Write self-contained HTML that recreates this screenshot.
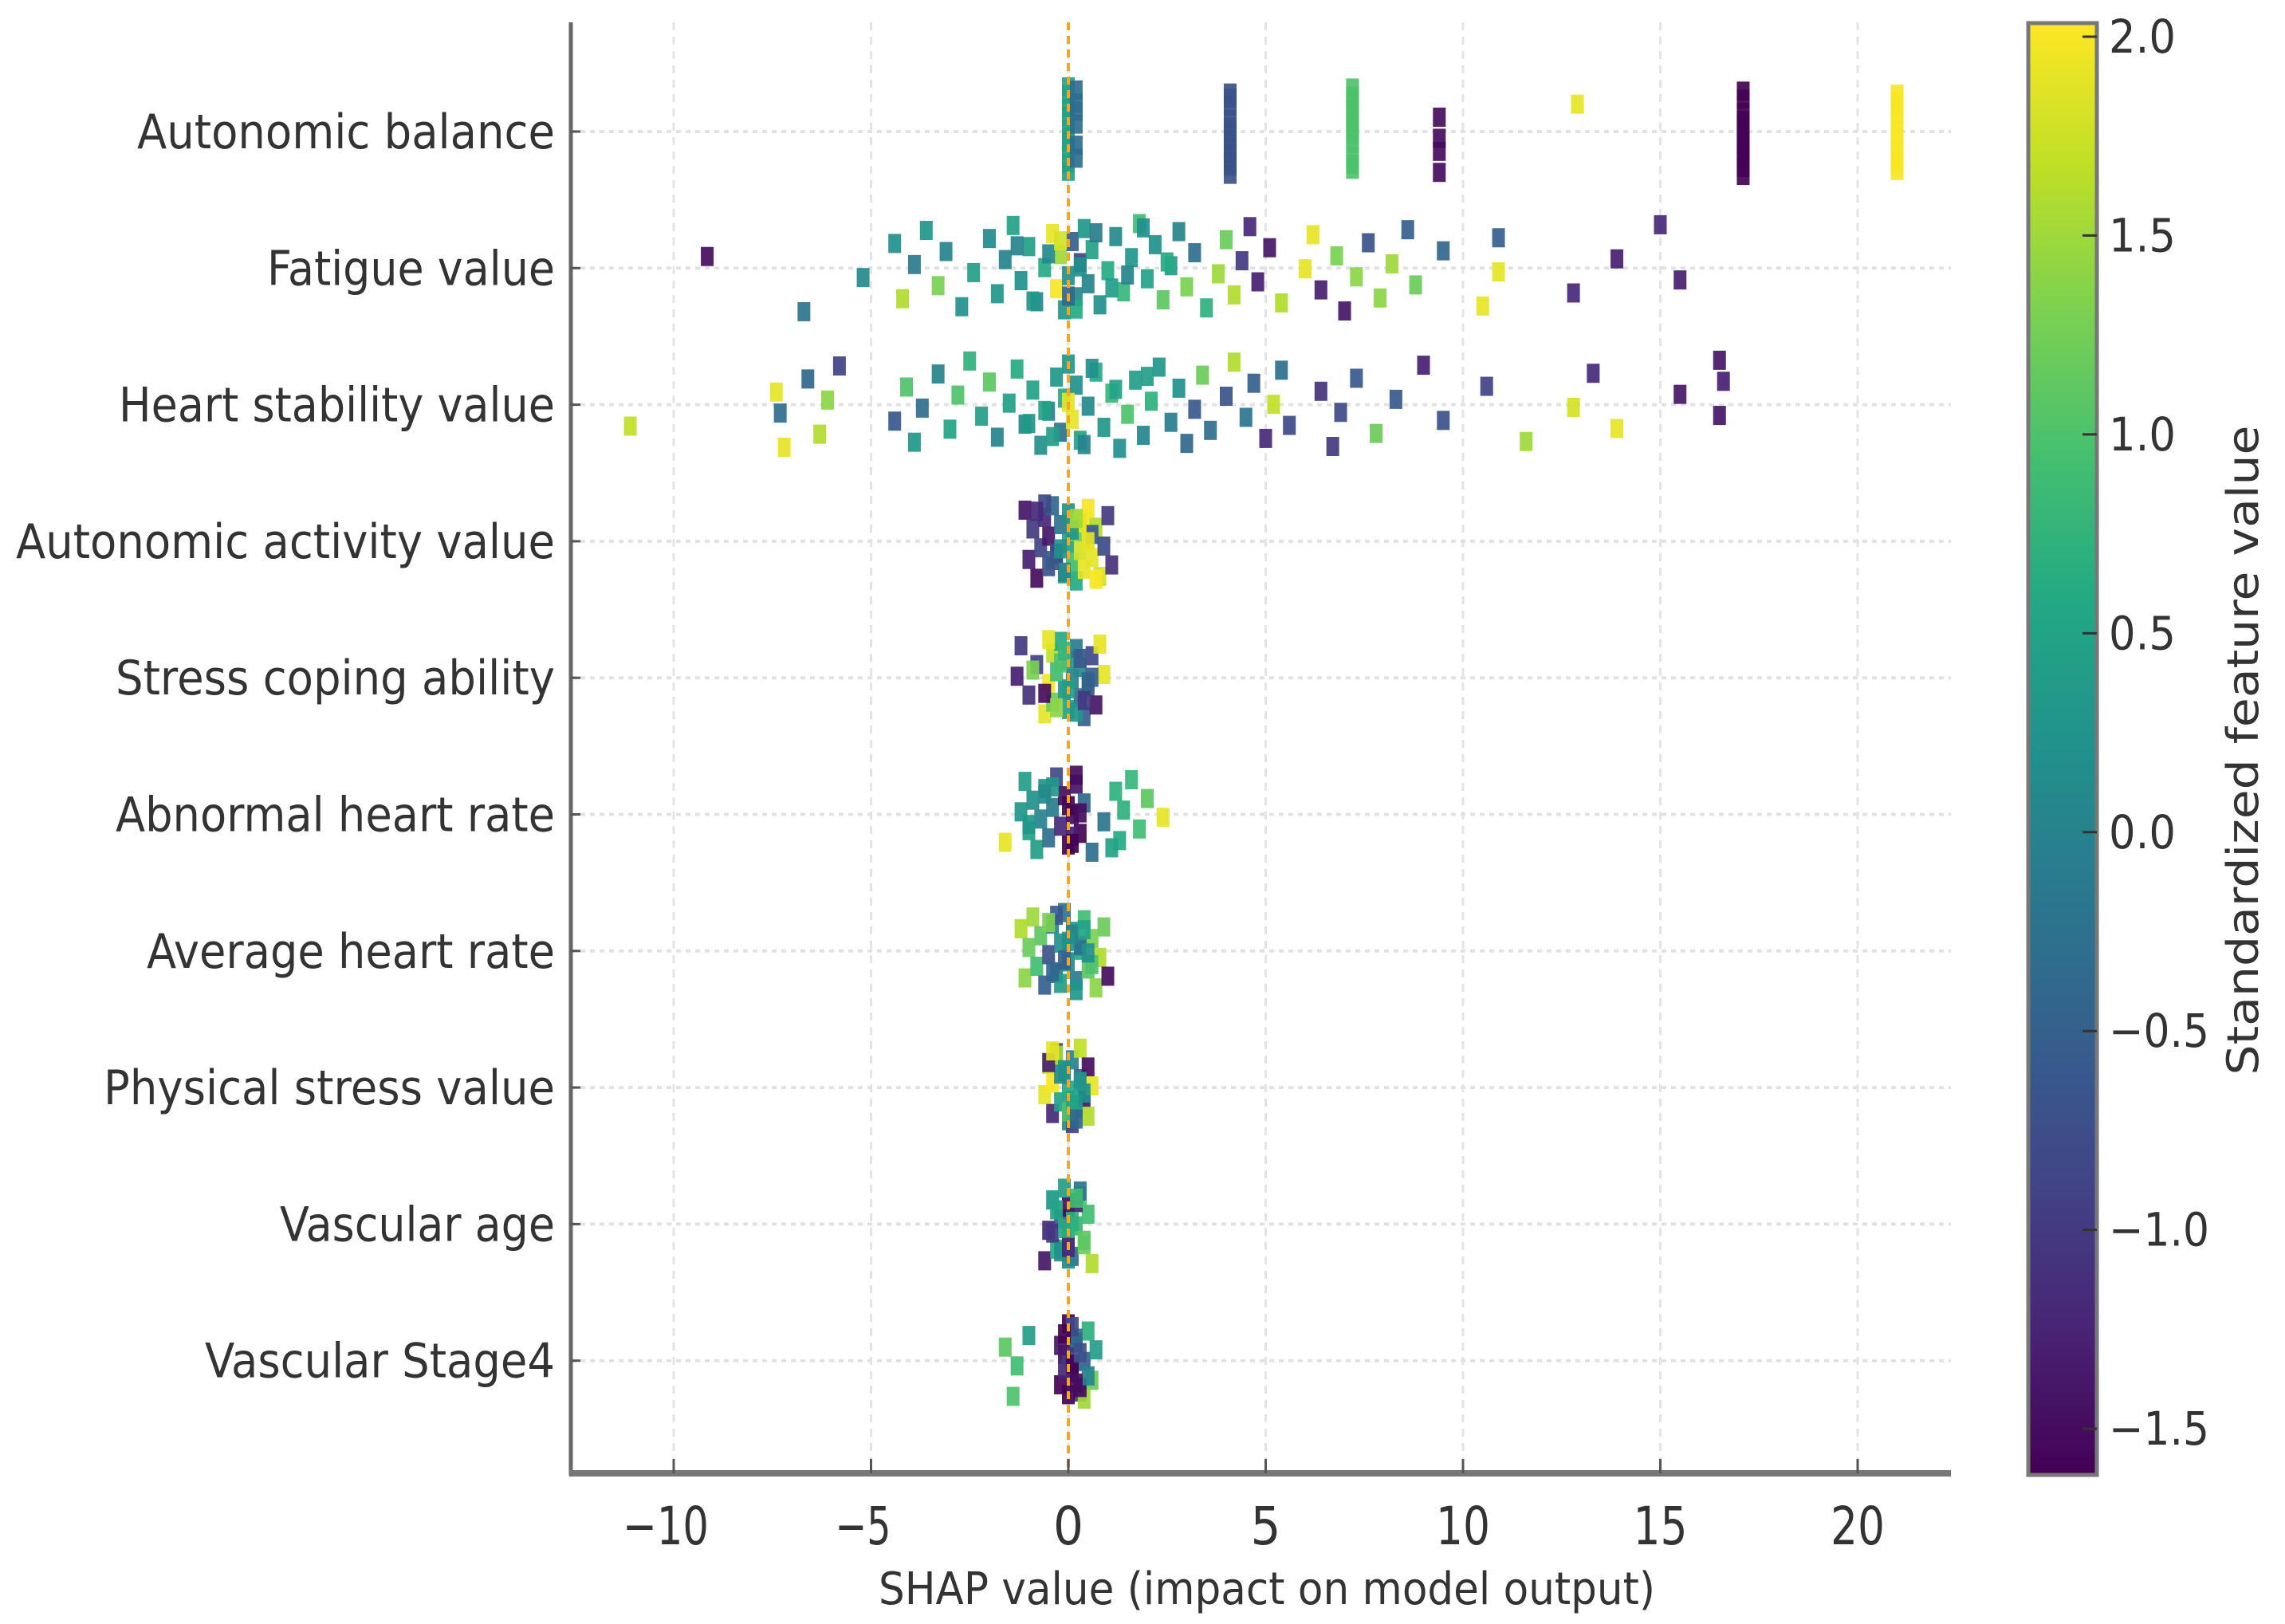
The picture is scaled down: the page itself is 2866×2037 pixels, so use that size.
<!DOCTYPE html>
<html><head><meta charset="utf-8"><style>
html,body{margin:0;padding:0;background:#fff;}
svg{display:block;}
text{font-family:"DejaVu Sans","Liberation Sans",sans-serif;fill:#333;}
</style></head><body>
<svg id="chart" width="2866" height="2037" viewBox="0 0 2866 2037" xmlns="http://www.w3.org/2000/svg">
<defs>
<linearGradient id="viridis" x1="0" y1="1" x2="0" y2="0">
<stop offset="0" stop-color="#440154"/><stop offset="0.1" stop-color="#482475"/><stop offset="0.2" stop-color="#414487"/><stop offset="0.3" stop-color="#355f8d"/><stop offset="0.4" stop-color="#2a788e"/><stop offset="0.5" stop-color="#21918c"/><stop offset="0.6" stop-color="#22a884"/><stop offset="0.7" stop-color="#44bf70"/><stop offset="0.8" stop-color="#7ad151"/><stop offset="0.9" stop-color="#bddf26"/><stop offset="1" stop-color="#fde725"/>
</linearGradient>
</defs>
<g id="grid"></g>
<g id="points"></g>
<g id="axes"></g>
<g id="cbar"></g>
</svg>
<script>
const features = ["Autonomic balance","Fatigue value","Heart stability value","Autonomic activity value","Stress coping ability","Abnormal heart rate","Average heart rate","Physical stress value","Vascular age","Vascular Stage4"];
const xTicks = [-10,-5,0,5,10,15,20];
const xTickLabels = ["\u221210","\u22125","0","5","10","15","20"];
const cbarTicks = [2.0,1.5,1.0,0.5,0.0,-0.5,-1.0,-1.5];
const cbarTickLabels = ["2.0","1.5","1.0","0.5","0.0","\u22120.5","\u22121.0","\u22121.5"];

const autonomicBalance = [[0,0.5],[0,0.5],[0,0.5],[0,0.5],[0,0.5],[0,0.5],[0,0.5],[0,0.5],[0,0.5],[0,0.5],[0.2,-0.3],[0.2,-0.3],[0.2,-0.3],[0.2,-0.3],[0.2,-0.3],[0.2,-0.3],
[4.1,-0.7],[4.1,-0.7],[4.1,-0.7],[4.1,-0.7],[4.1,-0.7],[4.1,-0.7],[4.1,-0.7],[4.1,-0.7],[4.1,-0.7],[4.1,-0.7],[4.1,-0.7],[4.1,-0.7],
[7.2,1.0],[7.2,1.0],[7.2,1.0],[7.2,1.0],[7.2,1.0],[7.2,1.0],[7.2,1.0],[7.2,1.0],[7.2,1.0],[7.2,1.0],[7.2,1.0],[7.2,1.0],
[9.4,-1.5],[9.4,-1.5],[9.4,-1.5],[9.4,-1.5],[12.9,1.9],
[17.1,-1.6],[17.1,-1.6],[17.1,-1.6],[17.1,-1.6],[17.1,-1.6],[17.1,-1.6],[17.1,-1.6],[17.1,-1.6],[17.1,-1.6],[17.1,-1.6],[17.1,-1.6],[17.1,-1.6],
[21.0,2.0],[21.0,2.0],[21.0,2.0],[21.0,2.0],[21.0,2.0],[21.0,2.0],[21.0,2.0],[21.0,2.0],[21.0,2.0],[21.0,2.0]];
const fatigueValue = [[-9.15,-1.5],[-6.7,-0.2],[-5.2,0.1],[-4.4,0.2],[-4.2,1.6],[-3.9,-0.1],[-3.6,0.3],[-3.3,1.3],[-3.1,0.0],[-2.7,0.2],[-2.4,0.4],[-2.0,0.1],[-1.8,0.3],[-1.6,0.0],[-1.4,0.5],[-1.2,0.2],[-1.0,0.4],[-0.8,0.1],[-0.6,0.6],[-0.4,1.9],[-0.3,2.0],[-0.2,1.5],[-0.1,0.3],[0,0.2],[0.1,-0.5],[0.2,0.1],[0.3,-0.9],[0.4,0.3],[0.5,0.0],[0.6,0.5],[0.8,0.2],[1.0,0.6],[1.2,0.1],[1.4,0.8],[1.6,0.3],[1.8,0.9],[2.0,0.5],[2.2,0.2],[2.4,1.1],[2.6,0.4],[2.8,0.0],[3.0,1.3],[3.2,-0.3],[3.5,0.7],[3.8,1.5],[4.0,1.2],[4.2,1.6],[4.4,-1.0],[4.6,-1.2],[4.8,-1.3],[5.1,-1.4],[5.4,1.6],[6.0,1.9],[6.2,1.9],[6.4,-1.3],[6.8,1.3],[7.0,-1.4],[7.3,1.4],[7.6,-0.7],[7.9,1.4],[8.2,1.5],[8.6,-0.5],[8.8,1.2],[9.5,-0.4],[10.5,1.9],[10.9,1.9],[10.9,-0.5],[12.8,-1.2],[13.9,-1.3],[15.0,-1.2],[15.5,-1.3],[-1.3,0.0],[-0.9,0.3],[0.3,0.2],[0.7,-0.1],[1.1,0.4],[-0.5,0.1],[0.2,0.6],[1.5,0.0],[-0.2,1.8],[0.0,-0.4],[2.5,0.6],[1.9,0.2]];
const heartStability = [[-11.1,1.7],[-7.4,1.9],[-7.2,1.9],[-7.3,-0.3],[-6.6,-0.4],[-6.3,1.6],[-6.1,1.4],[-5.8,-0.9],[-4.4,-0.6],[-4.1,1.0],[-3.9,0.3],[-3.7,-0.3],[-3.3,0.0],[-3.0,0.5],[-2.8,1.0],[-2.5,0.7],[-2.2,0.4],[-2.0,1.1],[-1.8,0.0],[-1.5,0.4],[-1.3,0.6],[-1.1,0.1],[-0.9,0.5],[-0.7,0.2],[-0.5,0.0],[-0.3,0.3],[-0.2,-0.2],[-0.1,0.6],[0,0.3],[0.1,1.9],[0.2,0.2],[0.3,0.5],[0.5,0.1],[0.7,0.6],[0.9,0.3],[1.1,0.8],[1.3,0.2],[1.5,1.0],[1.7,0.4],[1.9,0.0],[2.1,0.7],[2.3,0.3],[2.6,-0.1],[2.8,0.2],[3.0,-0.4],[3.2,-0.6],[3.4,1.2],[3.6,-0.3],[4.0,-0.7],[4.2,1.6],[4.5,-0.2],[4.7,-0.5],[5.0,-1.2],[5.2,1.7],[5.4,-0.3],[5.6,-0.8],[6.4,-1.1],[6.7,-1.0],[6.9,-0.8],[7.3,-0.6],[7.8,1.2],[8.3,-0.6],[9.0,-1.3],[9.5,-0.7],[10.6,-0.9],[11.6,1.5],[12.8,1.8],[13.3,-1.2],[13.9,1.9],[15.5,-1.4],[16.5,-1.4],[16.5,-1.4],[16.6,-1.3],[-0.4,0.4],[0.0,1.9],[0.6,0.2],[-1.0,0.3],[1.2,0.5],[0.4,0.0],[-0.6,0.5],[2.0,0.4]];
const autonomicActivity = [[-1.1,-1.4],[-1.0,-1.3],[-0.9,-1.0],[-0.8,-1.5],[-0.7,-0.9],[-0.6,-1.2],[-0.5,-0.7],[-0.5,-1.4],[-0.4,-0.4],[-0.3,0.0],[-0.2,-0.2],[-0.1,0.4],[0,0.5],[0,0.2],[0.1,0.9],[0.2,1.2],[0.2,0.6],[0.3,1.8],[0.4,2.0],[0.4,1.9],[0.5,1.7],[0.5,2.0],[0.6,1.9],[0.7,1.6],[0.8,1.8],[0.9,-0.8],[1.0,-1.0],[1.1,-1.1],[0.6,-0.6],[-0.6,-0.8],[-0.3,-0.9],[0.3,1.9],[-0.1,0.1],[0.5,1.9],[-0.8,-1.2],[-0.4,-0.6],[0.1,0.3],[0.7,2.0],[-0.2,0.2],[0.2,1.5]];
const stressCoping = [[-1.3,-1.3],[-1.2,-1.0],[-1.0,-1.1],[-0.8,-0.9],[-0.6,1.9],[-0.5,2.0],[-0.4,1.7],[-0.4,1.2],[-0.3,0.9],[-0.2,0.6],[-0.1,0.3],[0,0.2],[0,0.5],[0.1,0.0],[0.2,-0.1],[0.3,-0.3],[0.3,0.1],[0.4,-0.5],[0.5,-0.7],[0.6,-0.8],[0.7,-1.4],[0.9,1.9],[0.8,1.9],[-0.6,-1.5],[-0.2,1.0],[0.2,0.3],[0.5,-0.4],[-0.1,0.8],[0.4,-1.0],[-0.9,1.3],[-0.5,1.9],[0.0,0.4],[0.3,-0.6],[-0.3,1.4],[0.6,-0.5]];
const abnormalHeartRate = [[-1.6,1.9],[-1.2,0.3],[-1.1,0.4],[-1.0,0.5],[-0.9,0.2],[-0.8,0.4],[-0.7,0.0],[-0.6,0.3],[-0.5,-0.3],[-0.4,-0.1],[-0.3,-0.8],[-0.2,-1.2],[-0.1,-1.5],[0,-1.6],[0.1,-1.5],[0.2,-1.4],[0.3,-1.6],[0.4,-0.4],[0.6,-0.3],[0.9,-0.2],[1.2,0.7],[1.3,0.6],[1.4,0.7],[1.6,0.8],[1.8,0.9],[2.0,1.1],[1.1,0.5],[2.4,1.9],[-0.4,0.3],[0.1,-1.3],[0.0,-1.6],[0.2,-1.5],[-1.0,0.3],[-0.6,0.1],[0.1,-1.6],[0.3,-1.5]];
const averageHeartRate = [[-1.2,1.6],[-1.1,1.4],[-1.0,1.2],[-0.9,1.5],[-0.8,0.9],[-0.7,1.1],[-0.6,-0.5],[-0.5,-0.7],[-0.4,0.0],[-0.3,-0.3],[-0.2,0.2],[-0.1,-0.2],[0,0.1],[0.1,0.3],[0.2,-0.1],[0.3,0.6],[0.4,0.9],[0.5,1.1],[0.6,1.3],[0.7,1.4],[0.8,1.6],[0.9,1.2],[1.0,-1.5],[0.3,-0.3],[-0.3,-0.6],[0.6,1.0],[0.1,0.0],[-0.2,0.4],[0.5,0.2],[-0.5,1.3],[-0.4,-0.4],[0.0,0.2],[0.2,0.3],[-0.1,-0.5],[0.4,0.5]];
const physicalStress = [[-0.6,1.9],[-0.5,1.8],[-0.4,-1.2],[-0.4,2.0],[-0.3,-0.8],[-0.2,0.5],[-0.1,0.3],[0,0.2],[0,0.6],[0.1,0.0],[0.2,-0.2],[0.3,-0.5],[0.3,1.7],[0.4,-1.4],[0.5,-1.5],[0.5,1.6],[0.6,1.9],[-0.3,1.5],[0.2,0.4],[-0.2,0.1],[0.1,-0.9],[0.4,0.2],[-0.5,-1.3],[0.0,1.0],[0.3,0.3],[-0.4,1.9],[0.1,0.5],[-0.1,0.2],[0.2,-0.4]];
const vascularAge = [[-0.6,-1.4],[-0.5,-1.2],[-0.4,0.3],[-0.3,0.6],[-0.2,-0.5],[-0.1,0.4],[0,0.5],[0,-1.5],[0.1,-0.3],[0.2,0.8],[0.3,1.0],[0.4,1.2],[0.5,0.9],[0.6,1.6],[-0.4,-1.0],[0.2,-1.3],[-0.2,0.2],[0.1,0.7],[0.3,-0.2],[0.4,1.1],[-0.3,0.5],[0.0,0.1],[-0.1,0.6],[0.2,0.9],[0.0,-1.2]];
const vascularStage4 = [[-1.6,1.1],[-1.4,1.0],[-1.3,0.9],[-1.0,0.4],[-0.2,-1.6],[-0.1,-1.5],[0,-1.6],[0.1,-1.4],[0.2,-1.3],[0.3,-1.0],[0.4,-0.5],[0.5,0.7],[0.6,1.2],[0.7,0.4],[0.4,1.5],[-0.1,-1.2],[0.2,-0.3],[0.3,-1.5],[0,-1.0],[0.1,-0.8],[0.5,0.0],[-0.2,-1.4],[0.0,-1.6],[0.1,-1.6],[-0.1,-1.6],[0.2,-1.5],[0.3,-0.7]];
const rows = [autonomicBalance,fatigueValue,heartStability,autonomicActivity,stressCoping,abnormalHeartRate,averageHeartRate,physicalStress,vascularAge,vascularStage4];

const NS = "http://www.w3.org/2000/svg";
const plotL = 716, plotR = 2447, plotT = 28, plotB = 1848;
const x0px = 1340, xUnit = 49.5;
function xScale(v){ return x0px + v * xUnit; }
function yRow(i){ return 165 + i * 171.3; }
const cbTop = 29, cbBot = 1850, cbVmax = 2.034, cbVmin = -1.616;
function cbScale(v){ return cbTop + (cbVmax - v) / (cbVmax - cbVmin) * (cbBot - cbTop); }
const vir = ["#440154","#482475","#414487","#355f8d","#2a788e","#21918c","#22a884","#44bf70","#7ad151","#bddf26","#fde725"];
function hex(c){ return [parseInt(c.substr(1,2),16),parseInt(c.substr(3,2),16),parseInt(c.substr(5,2),16)]; }
function colorOf(v){
  let t = (v - cbVmin) / (cbVmax - cbVmin); t = Math.max(0, Math.min(1, t));
  const f = t * 10, i = Math.min(9, Math.floor(f)), r = f - i;
  const a = hex(vir[i]), b = hex(vir[i+1]);
  return "rgb(" + a.map((c,k)=>Math.round(c + (b[k]-c)*r)).join(",") + ")";
}
function mk(tag, attrs, parent){
  const e = document.createElementNS(NS, tag);
  for (const k in attrs) e.setAttribute(k, attrs[k]);
  parent.appendChild(e); return e;
}
const grid = document.getElementById("grid");
const pts = document.getElementById("points");
const axes = document.getElementById("axes");
const cbar = document.getElementById("cbar");

xTicks.forEach(function(t){
  const l = mk("line", {x1:xScale(t), x2:xScale(t), y1:plotT, y2:plotB, stroke:"#e4e4e4", "stroke-width":3, "stroke-dasharray":"10,8"}, grid);
  
  
});
features.forEach(function(f, i){
  const l = mk("line", {x1:plotL, x2:plotR, y1:yRow(i), y2:yRow(i), stroke:"#e2e2e2", "stroke-width":4, "stroke-dasharray":"6,6"}, grid);
  
  
});

rows.forEach(function(row, ri){
  const spread = ri < 3 ? 112 : 100;
  row.forEach(function(p, i){
    const j = ((i * 0.6180339 + ri * 0.37) % 1) - 0.5;
    const cy = yRow(ri) + j * spread;
    const r = mk("rect", {x:xScale(p[0]) - 8, y:cy - 12, width:16, height:24, fill:colorOf(p[1]), opacity:0.92}, pts);
    
    
  });
});

const z = mk("line", {x1:xScale(0), x2:xScale(0), y1:plotT, y2:plotB, stroke:"#f5a623", "stroke-width":4, "stroke-dasharray":"10,7"}, axes);



const ls = mk("line", {x1:plotL, x2:plotL, y1:plotT, y2:plotB + 3, stroke:"#666", "stroke-width":5}, axes);


const bs = mk("line", {x1:plotL - 2, x2:plotR, y1:plotB, y2:plotB, stroke:"#777", "stroke-width":8}, axes);



xTicks.forEach(function(t, i){
  const tk = mk("line", {x1:xScale(t), x2:xScale(t), y1:plotB - 18, y2:plotB, stroke:"#555", "stroke-width":3}, axes);
  
  
  const lab = xTickLabels[i];
  const w = lab.length === 1 ? 38 : (lab.length === 2 && lab[0] !== "\u2212" ? 68 : (lab[0] === "\u2212" && lab.length === 2 ? 70 : 108));
  const tx = mk("text", {x:xScale(t) - (lab[0] === "\u2212" ? 10 : 0), y:1937, "text-anchor":"middle", "font-size":66, textLength:w, lengthAdjust:"spacingAndGlyphs"}, axes);
  tx.textContent = lab;
  
  
});

const yLabelWidths = [524,361,547,676,551,551,512,566,345,439];
features.forEach(function(f, i){
  const tk = mk("line", {x1:plotL, x2:plotL + 12, y1:yRow(i), y2:yRow(i), stroke:"#555", "stroke-width":3}, axes);
  
  
  const tx = mk("text", {x:696, y:yRow(i) + 21, "text-anchor":"end", "font-size":60, textLength:yLabelWidths[i], lengthAdjust:"spacingAndGlyphs"}, axes);
  tx.textContent = f;
  
  
});

const xt = mk("text", {x:1589, y:2012, "text-anchor":"middle", "font-size":56, textLength:974, lengthAdjust:"spacingAndGlyphs"}, axes);
xt.textContent = "SHAP value (impact on model output)";



const cb = mk("rect", {x:2544, y:cbTop, width:86, height:cbBot - cbTop, fill:"url(#viridis)", stroke:"#777", "stroke-width":5}, cbar);


cbarTicks.forEach(function(t, i){
  const tk = mk("line", {x1:2612, x2:2630, y1:cbScale(t), y2:cbScale(t), stroke:"#333", "stroke-width":3}, cbar);
  
  
  const lab = cbarTickLabels[i];
  const tx = mk("text", {x:2645, y:cbScale(t) + 20, "font-size":58, textLength:lab.length === 3 ? 84 : 126, lengthAdjust:"spacingAndGlyphs"}, cbar);
  tx.textContent = lab;
  
  
});
const ct = mk("text", {x:0, y:0, "text-anchor":"middle", "font-size":54, textLength:815, lengthAdjust:"spacingAndGlyphs", transform:"translate(2832,941) rotate(-90)"}, cbar);
ct.textContent = "Standardized feature value";


</script>
</body></html>
